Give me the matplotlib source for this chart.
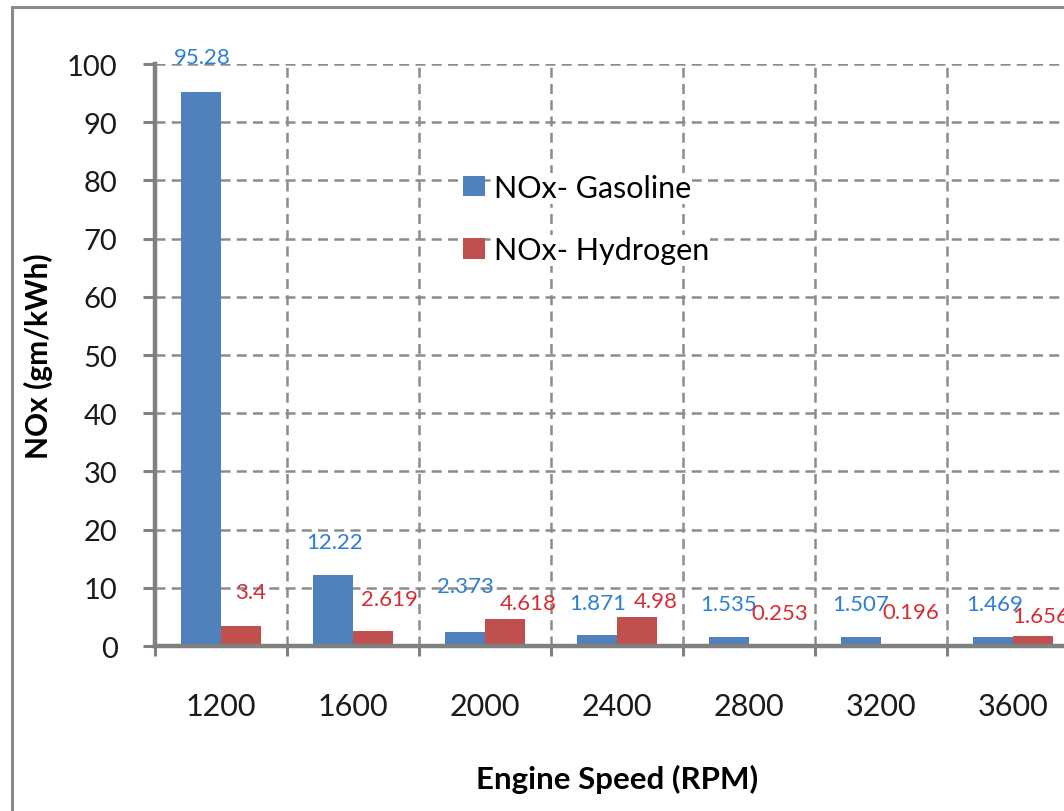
import numpy as np
import matplotlib
matplotlib.use('Agg')
import matplotlib.pyplot as plt
from matplotlib.patches import Rectangle

speeds = ['1200', '1600', '2000', '2400', '2800', '3200', '3600']
nox_gasoline = [95.28, 12.22, 2.373, 1.871, 1.535, 1.507, 1.469]
nox_hydrogen = [3.4, 2.619, 4.618, 4.98, 0.253, 0.196, 1.656]
gas_labels = ['95.28', '12.22', '2.373', '1.871', '1.535', '1.507', '1.469']
hyd_labels = ['3.4', '2.619', '4.618', '4.98', '0.253', '0.196', '1.656']

# label offsets (pixels) from the top of each bar, as placed in the source chart
gas_off = [(1, 35), (1, 33), (0, 46), (0, 32), (-1, 33), (-1, 33), (1, 33)]
hyd_off = [(10, 34), (17, 32), (23, 16), (19, 16), (11, 32), (10, 33), (8, 20)]

plt.rcParams['font.family'] = ['Lato', 'DejaVu Sans']

blue = '#4F81BD'
red = '#C0504D'
grid_gray = '#8C8C8C'
spine_gray = '#808080'

fig = plt.figure(figsize=(10.64, 8.12), dpi=100)
ax = fig.add_axes([0.1457, 0.2032, 0.8684, 0.7167])

# outer chart border (runs off the right and bottom of the picture)
fig.patches.append(Rectangle((12 / 1064, -0.2), 1.5, (804 / 812) + 0.2,
                             transform=fig.transFigure, fill=False,
                             edgecolor='#8A8A8A', linewidth=2.2, clip_on=False))

x = np.arange(len(speeds))
w = 0.3
ax.bar(x - w / 2, nox_gasoline, w, color=blue, label='NOx- Gasoline', zorder=3)
ax.bar(x + w / 2, nox_hydrogen, w, color=red, label='NOx- Hydrogen', zorder=3)

for xi, v, t, (dx, dy) in zip(x - w / 2, nox_gasoline, gas_labels, gas_off):
    ax.annotate(t, (xi, v), xytext=(dx, dy), textcoords='offset pixels',
                ha='center', va='center', fontsize=16, color='#2B7FD4',
                annotation_clip=False, zorder=4)
for xi, v, t, (dx, dy) in zip(x + w / 2, nox_hydrogen, hyd_labels, hyd_off):
    ax.annotate(t, (xi, v), xytext=(dx, dy), textcoords='offset pixels',
                ha='center', va='center', fontsize=16, color='#D62D33',
                annotation_clip=False, zorder=4)

ax.set_xlim(-0.5, 6.5)
ax.set_ylim(0, 100)
ax.set_yticks(np.arange(0, 101, 10))

ax.set_xticks(np.arange(-0.5, 7, 1))
ax.set_xticklabels([])
ax.set_xticks(x, minor=True)
ax.set_xticklabels(speeds, minor=True)
ax.tick_params(axis='x', which='minor', length=0, pad=33, labelsize=22, labelcolor='#1a1a1a')
ax.tick_params(axis='x', which='major', direction='out', length=7, width=2.2, color=spine_gray)
ax.tick_params(axis='y', direction='out', length=9, width=2.2, color=spine_gray,
               pad=18, labelsize=21, labelcolor='#1a1a1a')

ax.set_axisbelow(True)
ax.grid(True, which='major', color=grid_gray, linewidth=1.8, linestyle=(0, (4, 2.5)))

for s in ['top', 'right']:
    ax.spines[s].set_visible(False)
for s in ['left', 'bottom']:
    ax.spines[s].set_color(spine_gray)
    ax.spines[s].set_linewidth(3.2)
    ax.spines[s].set_zorder(5)

ax.set_xlabel('Engine Speed (RPM)', fontsize=22.5, fontweight='bold', labelpad=32)
ax.set_ylabel('NOx (gm/kWh)', fontsize=21.5, fontweight='bold', labelpad=10)

leg = ax.legend(loc='upper left', bbox_to_anchor=(0.3333, 0.811), frameon=False,
                fontsize=22, handlelength=0.72, handleheight=0.65, handletextpad=0.28,
                labelspacing=1.12, borderpad=0, borderaxespad=0)
for t in leg.get_texts():
    t.set_bbox(dict(facecolor='white', edgecolor='none', pad=1))

fig.savefig('out.png', dpi=100)
